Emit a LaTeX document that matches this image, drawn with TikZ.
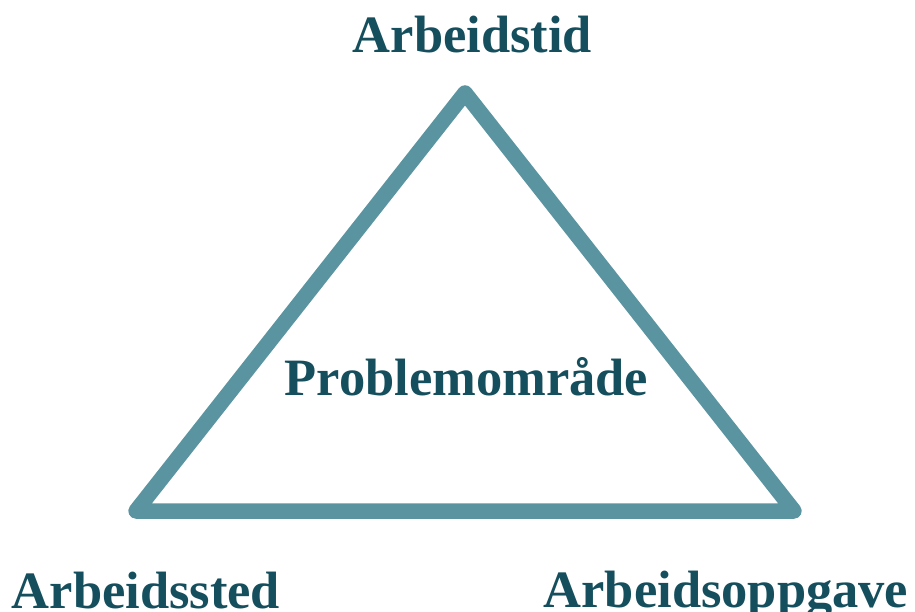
\documentclass[tikz,border=0pt]{standalone}
\usepackage{fontspec}
\setmainfont{Liberation Serif}
\definecolor{edgecol}{HTML}{5A94A0}
\definecolor{txtcol}{HTML}{154F5D}
\begin{document}
\begin{tikzpicture}[x=1pt,y=-1pt,
  lab/.style={font=\fontsize{52.5}{60}\selectfont\bfseries, text=txtcol, inner sep=0pt, anchor=base},
  tri/.style={draw=edgecol, line width=15.5pt, line join=round}]
\useasboundingbox (0,0) rectangle (915,612);
\coordinate (T) at (465,93);
\coordinate (L) at (136,511);
\coordinate (R) at (794,511);
\draw[tri] (T) -- (L) -- (R) -- cycle;
\node[lab] (top) at (472.5,53) {Arbeidstid};
\node[lab] (mid) at (466.5,395) {Problemområde};
\node[lab] (left) at (146,608) {Arbeidssted};
\node[lab] (right) at (726,607) {Arbeidsoppgave};
\end{tikzpicture}
\end{document}
